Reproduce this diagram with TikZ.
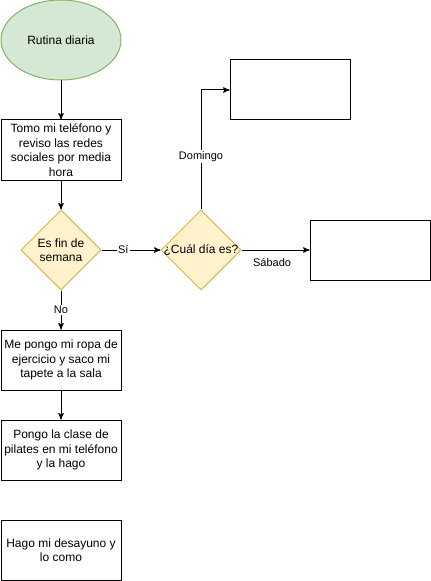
\documentclass[tikz,border=0pt]{standalone}
\usepackage{fontspec}
\setmainfont{Liberation Sans}
\usetikzlibrary{arrows}
\usetikzlibrary{shapes.geometric}
\definecolor{mgreen}{HTML}{D5E8D4}
\definecolor{mgreenline}{HTML}{82B366}
\definecolor{myellow}{HTML}{FFF2CC}
\definecolor{myellowline}{HTML}{D6B656}
\tikzset{
  paso/.style={draw, line width=0.75pt, minimum width=90pt, minimum height=45pt,
    inner sep=0pt, align=center, font=\fontsize{9}{10.9}\selectfont},
  inicio/.style={ellipse, draw=mgreenline, fill=mgreen, line width=0.75pt,
    minimum width=90pt, minimum height=60pt, inner sep=0pt, font=\fontsize{9}{10.9}\selectfont},
  decision/.style={diamond, draw=myellowline, fill=myellow, line width=0.75pt,
    minimum width=60pt, minimum height=60pt, inner sep=0pt, align=center,
    font=\fontsize{9}{10.9}\selectfont},
  flecha/.style={-stealth', line width=0.75pt},
  etiqueta/.style={font=\fontsize{8.25}{9.5}\selectfont, fill=white, inner sep=1pt}
}

\begin{document}
\begin{tikzpicture}[x=0.75pt, y=-0.75pt]
    \useasboundingbox (0, 0) rectangle (431, 581);

    \node[inicio] (rutina) at (61, 40) {Rutina diaria};
    \node[paso] (telefono) at (61, 150) {Tomo mi teléfono y\\reviso las redes\\sociales por media\\hora};
    \node[decision] (finde) at (61, 250) {Es fin de\\semana};
    \node[decision] (dia) at (201, 250) {\makebox[0pt]{¿Cuál día es?}};
    \node[paso] (domingo) at (290, 90) {};
    \node[paso] (sabado) at (370, 250) {};
    \node[paso] (ropa) at (61, 360) {Me pongo mi ropa de\\ejercicio y saco mi\\tapete a la sala};
    \node[paso] (pilates) at (61, 450) {Pongo la clase de\\pilates en mi teléfono\\y la hago};
    \node[paso] (desayuno) at (61, 550) {Hago mi desayuno y\\lo como};

    \draw [flecha] (rutina) -- (telefono);
    \draw [flecha] (telefono) -- (finde);
    \draw [flecha] (finde) -- node[etiqueta, pos=0.37] {Sí} (dia);
    \draw [flecha] (finde) -- node[etiqueta] {No} (ropa);
    \draw [flecha] (dia) |- node[etiqueta, pos=0.22] {Domingo} (domingo);
    \draw [flecha] (dia) -- node[etiqueta, fill=none, below=5pt, pos=0.45] {Sábado} (sabado);
    \draw [flecha] (ropa) -- (pilates);
  \end{tikzpicture}
\end{document}
